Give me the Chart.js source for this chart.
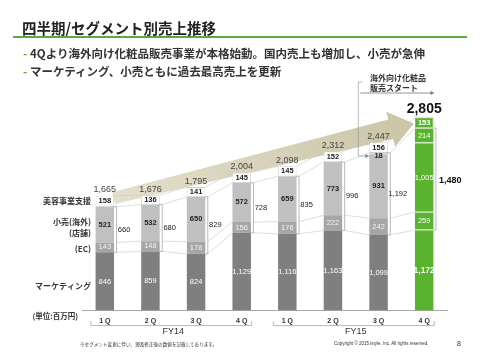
<!DOCTYPE html>
<html lang="ja">
<head>
<meta charset="utf-8">
<script src="https://cdn.jsdelivr.net/npm/chart.js@4.4.1/dist/chart.umd.min.js"></script>
<style>
  html, body { margin: 0; padding: 0; background: #fff; }
  #wrap { position: relative; width: 480px; height: 353px; overflow: hidden; font-family: "Noto Sans CJK JP", sans-serif; color: #333; }
  #chart { position: absolute; left: 0; top: 0; }
  .title { position: absolute; left: 22px; top: 20px; font-size: 14.5px; line-height: 16px; font-weight: bold; color: #222; white-space: nowrap; }
  .rule { position: absolute; left: 13px; top: 36px; width: 454px; height: 1.5px; background: #5aab3b; }
  .dash { position: absolute; left: 23px; font-size: 11.5px; line-height: 12px; font-weight: bold; color: #5aab3b; }
  .bullet { position: absolute; left: 30px; font-size: 11.5px; line-height: 12px; font-weight: bold; color: #333; white-space: nowrap; }
  .note { position: absolute; left: 370px; top: 73px; font-size: 8px; line-height: 9.5px; font-weight: bold; color: #333; white-space: nowrap; }
  .foot { position: absolute; top: 341px; font-size: 4.6px; line-height: 6px; color: #333; white-space: nowrap; }
  .copy { font-family: "Liberation Sans", Arial, sans-serif; font-size: 4.5px; }
  .page { position: absolute; left: 457px; top: 340px; font-family: "Liberation Sans", Arial, sans-serif; font-size: 7px; line-height: 8px; color: #333; }
</style>
</head>
<body>
<div id="wrap">
  <canvas id="chart" width="480" height="353"></canvas>
  <div class="title">四半期/セグメント別売上推移</div>
  <div class="rule"></div>
  <div class="dash" style="top:47px">-</div>
  <div class="bullet" style="top:47px">4Qより海外向け化粧品販売事業が本格始動。国内売上も増加し、小売が急伸</div>
  <div class="dash" style="top:65px">-</div>
  <div class="bullet" style="top:65px">マーケティング、小売ともに過去最高売上を更新</div>
  <div class="note">海外向け化粧品<br>販売スタート</div>
  <div class="foot" style="left:80px">※セグメント変更に伴い、遡及修正後の数値を記載しております。</div>
  <div class="foot copy" style="left:334px">Copyright © 2015 istyle, Inc. All rights reserved.</div>
  <div class="page">8</div>
</div>
<script>
// 単位: 百万円
const quarters = ['1Q', '2Q', '3Q', '4Q', '1Q', '2Q', '3Q', '4Q'];
const fiscalYears = ['FY14', 'FY15'];
const marketing = [846, 859, 824, 1129, 1116, 1163, 1099, 1172];
const retailEC = [143, 148, 178, 156, 176, 222, 242, 259];
const retailStore = [521, 532, 650, 572, 659, 773, 931, 1005];
const retailOverseas = [0, 0, 0, 0, 0, 0, 18, 214];
const beautySupport = [158, 136, 141, 145, 145, 152, 156, 153];
const totals = [1665, 1676, 1795, 2004, 2098, 2312, 2447, 2805];
const retailTotals = [660, 680, 829, 728, 835, 996, 1192, 1480];

// 矢印の始点・終点 (y値)
const arrowFrom = 1633;
const arrowTo = 2717;

const GREEN = '#5ab32f';
const NUM_FONT = '"Liberation Sans Narrow", "Liberation Sans", Arial, sans-serif';
const JP_FONT = '"Noto Sans CJK JP", sans-serif';
const HL = 7; // 最新四半期

function fmt(v) { return v.toLocaleString('en-US'); }

function txt(ctx, s, x, y, font, color, align) {
    ctx.font = font;
    ctx.fillStyle = color;
    ctx.textAlign = align || 'center';
    ctx.textBaseline = 'middle';
    ctx.fillText(s, x, y);
}

function line(ctx, pts, color, w) {
    ctx.beginPath();
    ctx.moveTo(pts[0][0], pts[0][1]);
    for (let i = 1; i < pts.length; i++) ctx.lineTo(pts[i][0], pts[i][1]);
    ctx.strokeStyle = color;
    ctx.lineWidth = w;
    ctx.stroke();
}

function arrowHead(ctx, x, y, color) {
    ctx.beginPath();
    ctx.moveTo(x, y);
    ctx.lineTo(x - 4, y - 2);
    ctx.lineTo(x - 4, y + 2);
    ctx.closePath();
    ctx.fillStyle = color;
    ctx.fill();
}

function drawArrow(chart) {
    const ctx = chart.ctx;
    const yS = chart.scales.y;
    const b0 = chart.getDatasetMeta(0).data[0];
    const b7 = chart.getDatasetMeta(0).data[HL];
    const sx = b0.x + b0.width / 2 - 0.5, sy = yS.getPixelForValue(arrowFrom);
    const tx = b7.x - b7.width / 2 - 1, ty = yS.getPixelForValue(arrowTo);
    const dx = tx - sx, dy = ty - sy, len = Math.hypot(dx, dy);
    const ux = dx / len, uy = dy / len, nx = -uy, ny = ux;
    const headLen = 24, headW = 18, tailW = 6, neckW = 10;
    const bx = tx - ux * headLen, by = ty - uy * headLen;
    const pts = [
        [sx - nx * tailW, sy - ny * tailW],
        [bx - nx * neckW, by - ny * neckW],
        [bx - nx * headW, by - ny * headW],
        [tx, ty],
        [bx + nx * headW, by + ny * headW],
        [bx + nx * neckW, by + ny * neckW],
        [sx + nx * tailW, sy + ny * tailW]
    ];
    const g = ctx.createLinearGradient(sx, sy, tx, ty);
    g.addColorStop(0, '#e3dfcc');
    g.addColorStop(1, '#cbc5a6');
    ctx.save();
    ctx.beginPath();
    pts.forEach((p, i) => i ? ctx.lineTo(p[0], p[1]) : ctx.moveTo(p[0], p[1]));
    ctx.closePath();
    ctx.fillStyle = g;
    ctx.fill();
    ctx.restore();
}

const overlay = {
    id: 'overlay',
    beforeDatasetsDraw(chart) {
        drawArrow(chart);
    },
    afterDatasetsDraw(chart) {
        const ctx = chart.ctx;
        const area = chart.chartArea;
        const xS = chart.scales.x;
        const m = [0, 1, 2, 3, 4].map(i => chart.getDatasetMeta(i).data);
        ctx.save();

        // --- 棒同士をつなぐ線 ---
        for (let j = 0; j < quarters.length - 1; j++) {
            const a = m[0][j], b = m[0][j + 1];
            const ar = a.x + a.width / 2 + 2.5, bl = b.x - b.width / 2;
            [m[4][j].y, m[3][j].y, m[1][j].y, m[0][j].y].forEach((yy, k) => {
                const yn = [m[4][j + 1].y, m[3][j + 1].y, m[1][j + 1].y, m[0][j + 1].y][k];
                line(ctx, [[k === 0 ? ar - 2.5 : ar, yy], [bl, yn]], '#c8c8c8', 0.6);
            });
        }

        // --- 小売の括弧 ---
        for (let j = 0; j < quarters.length; j++) {
            const el = m[0][j];
            const r = el.x + el.width / 2;
            const top = m[3][j].y, bot = m[1][j].base;
            line(ctx, [[r - 1, top], [r + 2.5, top], [r + 2.5, bot], [r - 1, bot]], '#9a9a9a', 0.7);
        }

        // --- 緑の棒の区切り ---
        for (let i = 1; i < 5; i++) {
            const el = m[i][HL];
            line(ctx, [[el.x - el.width / 2, el.base], [el.x + el.width / 2, el.base]], '#ffffff', 1);
        }

        // --- セグメントのラベル ---
        for (let j = 0; j < quarters.length; j++) {
            const hl = j === HL;
            const mid = el => (el.y + el.base) / 2;
            const mk = m[0][j], ec = m[1][j], st = m[2][j], ov = m[3][j], bs = m[4][j];
            txt(ctx, fmt(marketing[j]), mk.x, mid(mk), (hl ? 'bold 8.5px ' : '7.5px ') + NUM_FONT, '#ffffff');
            txt(ctx, fmt(retailEC[j]), ec.x, mid(ec), '7.5px ' + NUM_FONT, hl ? '#ffffff' : '#f2f2f2');
            txt(ctx, fmt(retailStore[j]), st.x, mid(st), (hl ? '7.5px ' : 'bold 7.5px ') + NUM_FONT, hl ? '#ffffff' : '#222');
            if (retailOverseas[j] > 0) {
                txt(ctx, fmt(retailOverseas[j]), ov.x, hl ? mid(ov) : mid(ov) + 2.5,
                    (hl ? '7.5px ' : 'bold 7.5px ') + NUM_FONT, hl ? '#ffffff' : '#222');
            }
            txt(ctx, fmt(beautySupport[j]), bs.x, mid(bs), 'bold 7.5px ' + NUM_FONT, hl ? '#ffffff' : '#222');
            // 合計
            if (hl) {
                txt(ctx, fmt(totals[j]), bs.x, bs.y - 8, 'bold 14px ' + NUM_FONT, '#111');
            } else {
                txt(ctx, fmt(totals[j]), bs.x, bs.y - 6, '9px ' + NUM_FONT, '#444');
            }
            // 小売合計
            const rm = (ov.y + ec.base) / 2;
            if (hl) {
                txt(ctx, fmt(retailTotals[j]), mk.x + 26, rm + 2, 'bold 9px ' + NUM_FONT, '#111');
            } else {
                txt(ctx, fmt(retailTotals[j]), mk.x + mk.width / 2 + 10, rm, '7.5px ' + NUM_FONT, '#222');
            }
        }

        // --- 左側のセグメント名 ---
        const lx = area.left + 9;
        const f0 = 'bold 8px ' + JP_FONT;
        const mid0 = el => (el.y + el.base) / 2;
        txt(ctx, '美容事業支援', lx, mid0(m[4][0]), f0, '#333', 'right');
        txt(ctx, '小売(海外)', lx, mid0(m[2][0]) - 2.5, f0, '#333', 'right');
        txt(ctx, '(店舗)', lx, mid0(m[2][0]) + 8.5, f0, '#333', 'right');
        txt(ctx, '(EC)', lx, mid0(m[1][0]) + 2, f0, '#333', 'right');
        txt(ctx, 'マーケティング', lx, mid0(m[0][0]) + 4, f0, '#333', 'right');
        txt(ctx, '(単位:百万円)', area.left - 4, area.bottom + 6, 'bold 7.5px ' + JP_FONT, '#333', 'right');

        // --- 年度の括弧 ---
        fiscalYears.forEach((fy, k) => {
            const x1 = xS.getPixelForValue(k * 4) - 14;
            const x2 = xS.getPixelForValue(k * 4 + 3) + 10;
            const yb = area.bottom + 15;
            line(ctx, [[x1, yb - 4.5], [x1, yb], [x2, yb], [x2, yb - 4.5]], '#9a9a9a', 0.7);
            txt(ctx, fy, (x1 + x2) / 2 + 2, yb + 6, '9px "Liberation Sans", Arial, sans-serif', '#333');
        });

        // --- 海外向け化粧品販売スタートの注記 ---
        const b6 = m[3][6], b7 = m[0][HL];
        const ax = b6.x - b6.width / 2 - 11;
        const ay = (b6.y + b6.base) / 2 + 2.5;
        line(ctx, [[ax + 4, 82], [ax, 82], [ax, ay], [b6.x - b6.width / 2 - 1, ay]], '#9a9a9a', 0.7);
        arrowHead(ctx, b6.x - b6.width / 2, ay, '#888');
        line(ctx, [[ax + 2, 93], [b7.x + b7.width / 2 - 3, 93]], '#777', 0.8);
        arrowHead(ctx, b7.x + b7.width / 2 + 1, 93, '#777');

        ctx.restore();
    }
};

function segColor(base) {
    return ctx => ctx.dataIndex === HL ? GREEN : base;
}

new Chart(document.getElementById('chart'), {
    type: 'bar',
    data: {
        labels: quarters,
        datasets: [
            { label: 'マーケティング', data: marketing, backgroundColor: segColor('#7f7f7f') },
            { label: '小売(EC)', data: retailEC, backgroundColor: segColor('#a6a6a6') },
            { label: '小売(店舗)', data: retailStore, backgroundColor: segColor('#c0c0c0') },
            { label: '小売(海外)', data: retailOverseas, backgroundColor: segColor('#dcdcdc') },
            {
                label: '美容事業支援', data: beautySupport, backgroundColor: segColor('#ffffff'),
                borderColor: ctx => ctx.dataIndex === HL ? GREEN : '#cfcfcf',
                borderWidth: 0.8, borderSkipped: false
            }
        ]
    },
    options: {
        responsive: false,
        devicePixelRatio: 1,
        animation: false,
        events: [],
        layout: { padding: { left: 82, right: 33, top: 104, bottom: 22 } },
        datasets: { bar: { categoryPercentage: 1, barPercentage: 0.405 } },
        plugins: { legend: { display: false }, tooltip: { enabled: false } },
        scales: {
            x: {
                stacked: true,
                grid: { display: false, drawTicks: false },
                border: { display: true, color: '#aaaaaa', width: 1 },
                ticks: {
                    padding: 6,
                    color: '#333',
                    font: { size: 7, weight: 'bold', family: '"Liberation Sans", Arial, sans-serif' },
                    callback: (v, i) => quarters[i].split('').join(' ')
                }
            },
            y: { stacked: true, display: false, min: 0, max: 3000 }
        }
    },
    plugins: [overlay]
});
</script>
</body>
</html>
